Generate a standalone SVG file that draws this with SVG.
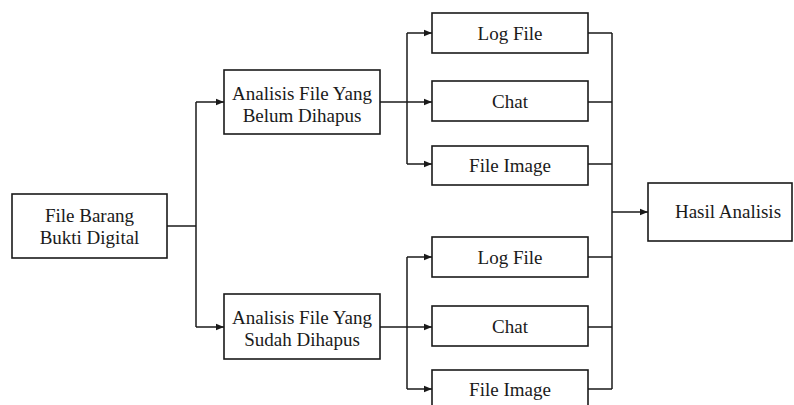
<svg xmlns="http://www.w3.org/2000/svg" width="794" height="405" viewBox="0 0 794 405">
<defs>
<marker id="ah" markerWidth="8" markerHeight="8" refX="8" refY="4" orient="auto" markerUnits="userSpaceOnUse">
<path d="M0,0.8 L8,4 L0,7.2 Z" fill="#1a1a1a"/>
</marker>
<style>
.box{fill:#fff;stroke:#1a1a1a;stroke-width:1.6}
.c{fill:none;stroke:#1a1a1a;stroke-width:1.5}
</style>
</defs>
<rect width="794" height="405" fill="#fff"/>
<g id="connectors">
<path class="c" d="M167,226 H196"/>
<path class="c" d="M196,102 V327"/>
<path class="c" d="M196,102 H224" marker-end="url(#ah)"/>
<path class="c" d="M196,327 H224" marker-end="url(#ah)"/>
<path class="c" d="M380,102 H407"/>
<path class="c" d="M407,33 V164"/>
<path class="c" d="M407,33 H432" marker-end="url(#ah)"/>
<path class="c" d="M407,102 H432" marker-end="url(#ah)"/>
<path class="c" d="M407,164 H432" marker-end="url(#ah)"/>
<path class="c" d="M380,327 H407"/>
<path class="c" d="M407,257 V389"/>
<path class="c" d="M407,257 H432" marker-end="url(#ah)"/>
<path class="c" d="M407,327 H432" marker-end="url(#ah)"/>
<path class="c" d="M407,389 H432" marker-end="url(#ah)"/>
<path class="c" d="M588,33 H612 M588,102 H612 M588,164 H612 M588,257 H612 M588,327 H612 M588,389 H612"/>
<path class="c" d="M612,33 V389"/>
<path class="c" d="M612,212 H648" marker-end="url(#ah)"/>
</g>
<g font-family="Liberation Serif, Times New Roman, serif" font-size="19" fill="#1a1a1a" text-anchor="middle">
<g id="file-barang">
<rect class="box" x="12" y="194" width="155" height="64"/>
<text x="89.5" y="222">File Barang</text>
<text x="89.5" y="244">Bukti Digital</text>
</g>
<g id="analisis-belum">
<rect class="box" x="224" y="70" width="156" height="64"/>
<text x="302" y="100">Analisis File Yang</text>
<text x="302" y="122">Belum Dihapus</text>
</g>
<g id="analisis-sudah">
<rect class="box" x="224" y="294" width="156" height="65"/>
<text x="302" y="324">Analisis File Yang</text>
<text x="302" y="346">Sudah Dihapus</text>
</g>
<g id="log-file-1">
<rect class="box" x="432" y="13" width="156" height="40"/>
<text x="510" y="40">Log File</text>
</g>
<g id="chat-1">
<rect class="box" x="432" y="81" width="156" height="40"/>
<text x="510" y="108">Chat</text>
</g>
<g id="file-image-1">
<rect class="box" x="432" y="146" width="156" height="39"/>
<text x="510" y="172">File Image</text>
</g>
<g id="log-file-2">
<rect class="box" x="432" y="237" width="156" height="40"/>
<text x="510" y="264">Log File</text>
</g>
<g id="chat-2">
<rect class="box" x="432" y="306" width="156" height="40"/>
<text x="510" y="333">Chat</text>
</g>
<g id="file-image-2">
<rect class="box" x="432" y="370" width="156" height="40"/>
<text x="510" y="396">File Image</text>
</g>
<g id="hasil-analisis">
<rect class="box" x="648" y="183" width="144" height="58"/>
<text x="728" y="218">Hasil Analisis</text>
</g>
</g>
</svg>
